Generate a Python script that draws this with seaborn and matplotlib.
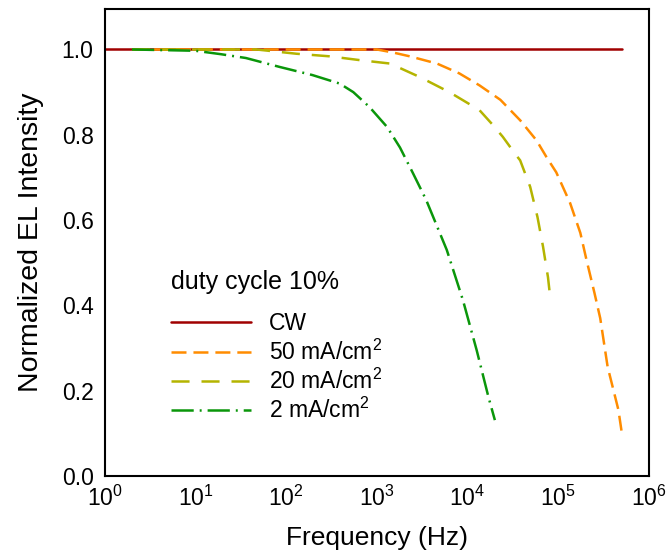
import numpy as np
import pandas as pd
import matplotlib
matplotlib.use("Agg")
import matplotlib.pyplot as plt
import seaborn as sns
from matplotlib.ticker import FixedLocator, LogFormatterMathtext, FormatStrFormatter, NullLocator

# CW reference
cw_freq = [1, 5e5]
cw_int = [1.0, 1.0]

# 50 mA/cm2
f50 = [2, 10, 100, 1000, 1500, 2300, 4600, 8100, 1.35e4, 2.3e4, 3.8e4, 5.75e4,
       7.4e4, 9.5e4, 1.35e5, 1.75e5, 2.05e5, 2.5e5, 2.9e5, 3.5e5, 4.6e5, 5e5]
i50 = [1.0, 1.0, 1.0, 1.0, 0.993, 0.984, 0.967, 0.944, 0.916, 0.882, 0.834, 0.787,
       0.748, 0.712, 0.64, 0.57, 0.506, 0.43, 0.37, 0.256, 0.155, 0.103]

# 20 mA/cm2
f20 = [2, 10, 47, 130, 300, 650, 1400, 3000, 6300, 1.35e4, 1.9e4, 2.45e4, 3.3e4,
       3.8e4, 4.9e4, 5.9e4, 6.8e4, 7.7e4, 8e4]
i20 = [1.0, 1.0, 1.0, 0.99, 0.984, 0.975, 0.967, 0.935, 0.90, 0.858, 0.823, 0.795, 0.757,
       0.74, 0.678, 0.607, 0.537, 0.466, 0.434]

# 2 mA/cm2
f2 = [2, 10, 19, 36, 85, 195, 390, 550, 830, 1300, 1800, 2500, 3500, 5900, 8900,
      1.26e4, 1.7e4, 2e4]
i2 = [1.0, 0.997, 0.989, 0.98, 0.959, 0.94, 0.92, 0.90, 0.865, 0.818, 0.77, 0.71,
      0.647, 0.53, 0.412, 0.295, 0.185, 0.131]

labels = ["CW", "50 mA/cm$^2$", "20 mA/cm$^2$", "2 mA/cm$^2$"]
colors = ["#a00000", "#ff8c00", "#b4b400", "#0a960a"]
styles = ["-", (0, (10.8, 5.0)), (0, (13.0, 8.6)), (0, (16.0, 4.3, 1.4, 4.3))]

sns.set_style("white")
plt.rcParams["font.family"] = ["Liberation Sans", "DejaVu Sans"]
plt.rcParams["mathtext.fontset"] = "custom"
plt.rcParams["mathtext.rm"] = "Liberation Sans"
plt.rcParams["mathtext.default"] = "regular"
plt.rcParams["lines.scale_dashes"] = False
plt.rcParams["text.color"] = "black"
plt.rcParams["axes.labelcolor"] = "black"

fig = plt.figure(figsize=(6.67, 5.6), dpi=100)
ax = fig.add_axes([0.157, 0.15, 0.816, 0.834])

series = [(cw_freq, cw_int), (f50, i50), (f20, i20), (f2, i2)]
for (fx, fy), lab, col, ls in zip(series, labels, colors, styles):
    df = pd.DataFrame({"freq": fx, "intensity": fy})
    sns.lineplot(data=df, x="freq", y="intensity", ax=ax, color=col,
                 linestyle=ls, linewidth=1.8, label=lab, sort=False)

ax.set_xscale("log")
ax.set_xlim(1, 1e6)
ax.set_ylim(0, 1.095)
ax.xaxis.set_major_locator(FixedLocator([10.0 ** k for k in range(7)]))
ax.xaxis.set_major_formatter(LogFormatterMathtext())
ax.xaxis.set_minor_locator(NullLocator())
ax.set_yticks([0.0, 0.2, 0.4, 0.6, 0.8, 1.0])
ax.yaxis.set_major_formatter(FormatStrFormatter("%.1f"))

for s in ax.spines.values():
    s.set_linewidth(1.5)
    s.set_color("black")
ax.tick_params(axis="both", direction="in", length=5, width=1.5,
               labelsize=16.5, colors="black")
ax.tick_params(axis="x", pad=7)
ax.tick_params(axis="y", pad=8)

ax.set_xlabel("Frequency (Hz)", fontsize=19, labelpad=11)
ax.set_ylabel("Normalized EL Intensity", fontsize=20.5, labelpad=13)

handles, labs = ax.get_legend_handles_labels()
leg = ax.legend(handles, labs, title="duty cycle 10%", loc="upper left",
                bbox_to_anchor=(0.1, 0.465), frameon=False, fontsize=16.5,
                title_fontsize=18, handlelength=3.5, handletextpad=0.8,
                labelspacing=0.18, borderpad=0, alignment="left")
leg._legend_box.sep = 13

fig.savefig("out.png", dpi=100)
